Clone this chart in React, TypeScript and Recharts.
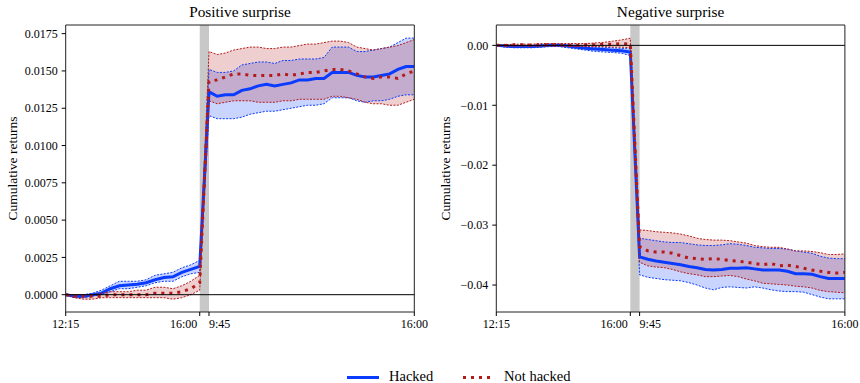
import React from 'react';
import { ComposedChart, Line, Area, XAxis, YAxis, ReferenceArea, ReferenceLine } from 'recharts';

// ---------- categories (time labels) ----------
const preTimes = ['12:15', '12:30', '12:45', '13:00', '13:15', '13:30', '13:45', '14:00', '14:15', '14:30', '14:45', '15:00', '15:15', '15:30', '15:45', '16:00'];
const postTimes = ['9:45', '10:00', '10:15', '10:30', '10:45', '11:00', '11:15', '11:30', '11:45', '12:00', '12:15', '12:30', '12:45', '13:00', '13:15', '13:30', '13:45', '14:00', '14:15', '14:30', '14:45', '15:00', '15:15', '15:30', '15:45', '16:00'];
const xTickLabels = ['12:15', '16:00', '9:45', '16:00'];

// ---------- Positive surprise ----------
const posHackedPre = [0, -0.0001, -0.0001, 0.0, 0.0001, 0.0004, 0.0006, 0.00065, 0.0007, 0.0008, 0.001, 0.00115, 0.0012, 0.0015, 0.0017, 0.0019];
const posHackedPreLo = [0, -0.0002, -0.0002, -0.0001, 0.0, 0.0002, 0.0004, 0.0004, 0.0005, 0.0006, 0.0008, 0.0009, 0.0009, 0.0012, 0.0014, 0.0015];
const posHackedPreHi = [0, 0.0, 0.0, 0.0001, 0.0003, 0.0006, 0.0009, 0.0009, 0.0009, 0.001, 0.0013, 0.0014, 0.0015, 0.0018, 0.002, 0.0023];
const posHackedPost = [0.0136, 0.0133, 0.0134, 0.0134, 0.0137, 0.0138, 0.014, 0.0141, 0.014, 0.0141, 0.0142, 0.0144, 0.0144, 0.0145, 0.0145, 0.0149, 0.0149, 0.0149, 0.0147, 0.0146, 0.0146, 0.0147, 0.0148, 0.0151, 0.0153, 0.0153];
const posHackedPostLo = [0.012, 0.0118, 0.0118, 0.0118, 0.0119, 0.0121, 0.0122, 0.0123, 0.0123, 0.0124, 0.0125, 0.0126, 0.0127, 0.0127, 0.0128, 0.0132, 0.0132, 0.0132, 0.013, 0.0129, 0.013, 0.013, 0.0131, 0.0133, 0.0134, 0.0134];
const posHackedPostHi = [0.0151, 0.0149, 0.0149, 0.015, 0.0154, 0.0155, 0.0156, 0.0156, 0.0155, 0.0157, 0.0157, 0.0158, 0.0158, 0.0158, 0.0159, 0.0166, 0.0166, 0.0166, 0.0163, 0.0163, 0.0164, 0.0165, 0.0166, 0.0169, 0.0172, 0.0172];

const posNotPre = [0, -0.0001, -0.0001, -0.0001, -0.0001, 0.0, 0.0, 0.0, 0.0, 0.0, 0.0001, 0.0001, 0.0001, 0.0002, 0.0004, 0.0008];
const posNotPreLo = [0, -0.0002, -0.0003, -0.0003, -0.0002, -0.0002, -0.0002, -0.0002, -0.0002, -0.0002, -0.0002, -0.0002, -0.0003, -0.0002, 0.0, 0.0003];
const posNotPreHi = [0, 0.0, 0.0, 0.0, 0.0001, 0.0002, 0.0002, 0.0002, 0.0003, 0.0003, 0.0005, 0.0005, 0.0004, 0.0006, 0.0009, 0.0013];
const posNotPost = [0.0143, 0.0144, 0.0146, 0.0148, 0.0148, 0.0147, 0.0147, 0.0147, 0.0147, 0.0148, 0.0147, 0.0148, 0.0149, 0.0149, 0.015, 0.0151, 0.0151, 0.015, 0.0148, 0.0146, 0.0145, 0.0146, 0.0146, 0.0145, 0.0148, 0.015];
const posNotPostLo = [0.013, 0.0128, 0.0129, 0.013, 0.013, 0.013, 0.0129, 0.0129, 0.0129, 0.013, 0.013, 0.0131, 0.0131, 0.0131, 0.0131, 0.0133, 0.0133, 0.0132, 0.0131, 0.0129, 0.0128, 0.0128, 0.0127, 0.0127, 0.0129, 0.0131];
const posNotPostHi = [0.0163, 0.0161, 0.0162, 0.0164, 0.0165, 0.0166, 0.0166, 0.0165, 0.0165, 0.0166, 0.0166, 0.0167, 0.0168, 0.0168, 0.0169, 0.017, 0.017, 0.0169, 0.0166, 0.0165, 0.0164, 0.0165, 0.0166, 0.0167, 0.0169, 0.0171];

// ---------- Negative surprise ----------
const negHackedPre = [0, -0.0001, -0.0002, -0.0002, -0.0002, -0.0001, 0.0, 0.0, -0.0001, -0.0003, -0.0005, -0.0006, -0.0007, -0.0008, -0.0009, -0.0011];
const negHackedPreLo = [0, -0.0003, -0.0004, -0.0004, -0.0004, -0.0003, -0.0002, -0.0002, -0.0004, -0.0006, -0.0008, -0.001, -0.0011, -0.0012, -0.0013, -0.0017];
const negHackedPreHi = [0, 0.0001, 0.0, 0.0, 0.0, 0.0001, 0.0002, 0.0002, 0.0001, 0.0, -0.0002, -0.0003, -0.0003, -0.0004, -0.0005, -0.0006];
const negHackedPost = [-0.0353, -0.0357, -0.036, -0.0362, -0.0364, -0.0366, -0.0369, -0.0371, -0.0374, -0.0375, -0.0374, -0.0372, -0.0372, -0.0371, -0.0373, -0.0375, -0.0375, -0.0375, -0.0377, -0.0381, -0.0381, -0.0382, -0.0386, -0.0389, -0.0389, -0.0389];
const negHackedPostLo = [-0.0383, -0.0387, -0.0389, -0.0391, -0.0392, -0.0393, -0.0396, -0.04, -0.0405, -0.0408, -0.0404, -0.0403, -0.0404, -0.0405, -0.0403, -0.0405, -0.0408, -0.041, -0.0411, -0.0411, -0.0412, -0.0416, -0.042, -0.0423, -0.0423, -0.0423];
const negHackedPostHi = [-0.0322, -0.0324, -0.0326, -0.0328, -0.0329, -0.0329, -0.0331, -0.0333, -0.0334, -0.0334, -0.0333, -0.0331, -0.0332, -0.0334, -0.0337, -0.0338, -0.0339, -0.0339, -0.034, -0.0343, -0.0345, -0.0347, -0.0352, -0.0355, -0.0356, -0.0356];

const negNotPre = [0, 0.0, 0.0001, 0.0001, 0.0, 0.0001, 0.0001, 0.0001, 0.0, 0.0, 0.0001, 0.0001, 0.0002, 0.0002, 0.0003, 0.0002];
const negNotPreLo = [0, -0.0001, -0.0001, -0.0001, -0.0001, -0.0001, -0.0001, -0.0001, -0.0002, -0.0002, -0.0002, -0.0002, -0.0002, -0.0003, -0.0003, -0.0004];
const negNotPreHi = [0, 0.0001, 0.0002, 0.0002, 0.0002, 0.0003, 0.0003, 0.0003, 0.0003, 0.0003, 0.0003, 0.0004, 0.0005, 0.0007, 0.0009, 0.0012];
const negNotPost = [-0.0336, -0.0343, -0.0345, -0.0345, -0.0347, -0.0351, -0.0355, -0.0356, -0.0357, -0.0356, -0.0357, -0.0359, -0.036, -0.0362, -0.0364, -0.0366, -0.0364, -0.0368, -0.0367, -0.0369, -0.0372, -0.0375, -0.0377, -0.0379, -0.038, -0.0379];
const negNotPostLo = [-0.0362, -0.0368, -0.037, -0.0371, -0.0374, -0.0378, -0.0381, -0.0383, -0.0386, -0.0386, -0.0385, -0.0384, -0.0386, -0.039, -0.0393, -0.0397, -0.0398, -0.0399, -0.04, -0.0402, -0.0403, -0.0405, -0.0409, -0.0411, -0.0412, -0.0413];
const negNotPostHi = [-0.0308, -0.0309, -0.0311, -0.0312, -0.0313, -0.0315, -0.0318, -0.0322, -0.0324, -0.0325, -0.0325, -0.0326, -0.0328, -0.033, -0.0334, -0.0336, -0.0337, -0.0337, -0.034, -0.0343, -0.0343, -0.0344, -0.0346, -0.0349, -0.0349, -0.0348];

// ---------- y ticks ----------
const posYTicks = [0, 0.0025, 0.005, 0.0075, 0.01, 0.0125, 0.015, 0.0175];
const negYTicks = [0, -0.01, -0.02, -0.03, -0.04];

// ---------- styling / layout ----------
const FONT = '"Liberation Serif", "Times New Roman", serif';
const BLUE = '#0a3cff';
const RED = '#b31b1b';
const LEFT_STEP = 1.088;
const GAP = 1.13;

const xOf = (k: number) =>
  k < preTimes.length ? k * LEFT_STEP : (preTimes.length - 1) * LEFT_STEP + GAP + (k - preTimes.length);
const X_MAX = xOf(preTimes.length + postTimes.length - 1);
const X_TICKS = [xOf(0), xOf(preTimes.length - 1), xOf(preTimes.length), X_MAX];
const TICK_ANCHORS = ['middle', 'end', 'start', 'middle'];
const TICK_DX = [0, -2.5, 0, 0];

function buildRows(hPre: number[], hPreLo: number[], hPreHi: number[], hPost: number[], hPostLo: number[], hPostHi: number[],
  nPre: number[], nPreLo: number[], nPreHi: number[], nPost: number[], nPostLo: number[], nPostHi: number[]) {
  const h = [...hPre, ...hPost], hl = [...hPreLo, ...hPostLo], hh = [...hPreHi, ...hPostHi];
  const n = [...nPre, ...nPost], nl = [...nPreLo, ...nPostLo], nh = [...nPreHi, ...nPostHi];
  const labels = [...preTimes, ...postTimes];
  return labels.map((t, k) => ({
    x: xOf(k), t,
    h: h[k], hLo: hl[k], hHi: hh[k], hBand: [hl[k], hh[k]],
    n: n[k], nLo: nl[k], nHi: nh[k], nBand: [nl[k], nh[k]],
  }));
}

const posRows = buildRows(posHackedPre, posHackedPreLo, posHackedPreHi, posHackedPost, posHackedPostLo, posHackedPostHi,
  posNotPre, posNotPreLo, posNotPreHi, posNotPost, posNotPostLo, posNotPostHi);
const negRows = buildRows(negHackedPre, negHackedPreLo, negHackedPreHi, negHackedPost, negHackedPostLo, negHackedPostHi,
  negNotPre, negNotPreLo, negNotPreHi, negNotPost, negNotPostLo, negNotPostHi);

const XTick = (props: any) => {
  const { x, y, payload } = props;
  const i = X_TICKS.findIndex((t) => Math.abs(t - payload.value) < 1e-6);
  if (i < 0) return null;
  return (
    <text x={x + TICK_DX[i]} y={y + 9} textAnchor={TICK_ANCHORS[i]} fill="#000" fontSize={12} fontFamily={FONT}>
      {xTickLabels[i]}
    </text>
  );
};

const tickStyle = { fill: '#000', fontSize: 12, fontFamily: FONT };
const SPINE = '#222';

function Panel({ rows, yDomain, yTicks, yFmt, yAxisWidth, left }: any) {
  return (
    <div style={{ position: 'absolute', left, top: 0 }}>
      <ComposedChart width={430} height={342} data={rows} margin={{ top: 24, right: 430 - yAxisWidth - 348.6 - 1, bottom: 0, left: 0 }}>
        <XAxis dataKey="x" type="number" domain={[0, X_MAX]} ticks={X_TICKS} interval={0} tick={<XTick />}
          height={30} tickSize={4} tickMargin={3} axisLine={{ stroke: SPINE }} tickLine={{ stroke: '#000' }} allowDataOverflow />
        <XAxis xAxisId="top" orientation="top" dataKey="x" type="number" domain={[0, X_MAX]} height={1}
          tick={false} tickLine={false} axisLine={{ stroke: SPINE }} allowDataOverflow />
        <YAxis type="number" domain={yDomain} ticks={yTicks} interval={0} tickFormatter={yFmt} width={yAxisWidth}
          tick={tickStyle} tickSize={4} tickMargin={4} axisLine={{ stroke: SPINE }} tickLine={{ stroke: '#000' }} allowDataOverflow />
        <YAxis yAxisId="right" orientation="right" type="number" domain={yDomain} width={1}
          tick={false} tickLine={false} axisLine={{ stroke: SPINE }} allowDataOverflow />
        <ReferenceArea x1={X_TICKS[1]} x2={X_TICKS[2]} fill="#c8c8c8" fillOpacity={1} stroke="none" ifOverflow="extendDomain" />
        <Area dataKey="hBand" type="linear" fill={BLUE} fillOpacity={0.22} stroke="none" isAnimationActive={false} />
        <Line dataKey="hLo" type="linear" stroke={BLUE} strokeWidth={1} strokeDasharray="2 1.4" dot={false} isAnimationActive={false} />
        <Line dataKey="hHi" type="linear" stroke={BLUE} strokeWidth={1} strokeDasharray="2 1.4" dot={false} isAnimationActive={false} />
        <Line dataKey="h" type="linear" stroke={BLUE} strokeWidth={3} dot={false} isAnimationActive={false} />
        <Area dataKey="nBand" type="linear" fill="#b22222" fillOpacity={0.22} stroke="none" isAnimationActive={false} />
        <Line dataKey="nLo" type="linear" stroke={RED} strokeWidth={1} strokeDasharray="2 1.4" dot={false} isAnimationActive={false} />
        <Line dataKey="nHi" type="linear" stroke={RED} strokeWidth={1} strokeDasharray="2 1.4" dot={false} isAnimationActive={false} />
        <Line dataKey="n" type="linear" stroke={RED} strokeWidth={3} strokeDasharray="3 5" dot={false} isAnimationActive={false} />
        <ReferenceLine y={0} stroke="#000" strokeWidth={1} />
      </ComposedChart>
    </div>
  );
}

export default function App() {
  return (
    <div style={{ position: 'absolute', left: 0, top: 0, width: 860, height: 383, background: '#fff', overflow: 'hidden' }}>
      <Panel rows={posRows} yDomain={[-0.00116, 0.01808]} yTicks={posYTicks} yFmt={(v: number) => v.toFixed(4)} yAxisWidth={65.7} left={0} />
      <Panel rows={negRows} yDomain={[-0.0445, 0.0034]} yTicks={negYTicks}
        yFmt={(v: number) => (Math.abs(v) < 1e-9 ? '0.00' : v.toFixed(2).replace('-', '\u2212'))} yAxisWidth={66.3} left={430} />
      <svg width={860} height={383} style={{ position: 'absolute', left: 0, top: 0, pointerEvents: 'none' }}>
        <g fontFamily={FONT} fill="#000">
          <text x={240} y={16.5} fontSize={15.3} textAnchor="middle">Positive surprise</text>
          <text x={670.6} y={16.5} fontSize={15.3} textAnchor="middle">Negative surprise</text>
          <text x={16.7} y={168.5} fontSize={13.5} textAnchor="middle" transform="rotate(-90 16.7 168.5)">Cumulative returns</text>
          <text x={450} y={168.5} fontSize={13.5} textAnchor="middle" transform="rotate(-90 450 168.5)">Cumulative returns</text>
          <line x1={347} x2={379} y1={377.5} y2={377.5} stroke={BLUE} strokeWidth={3} />
          <text x={389} y={381} fontSize={14.5}>Hacked</text>
          <line x1={463} x2={492} y1={377.5} y2={377.5} stroke={RED} strokeWidth={3} strokeDasharray="3 5" />
          <text x={504} y={381} fontSize={14.5}>Not hacked</text>
        </g>
      </svg>
    </div>
  );
}
